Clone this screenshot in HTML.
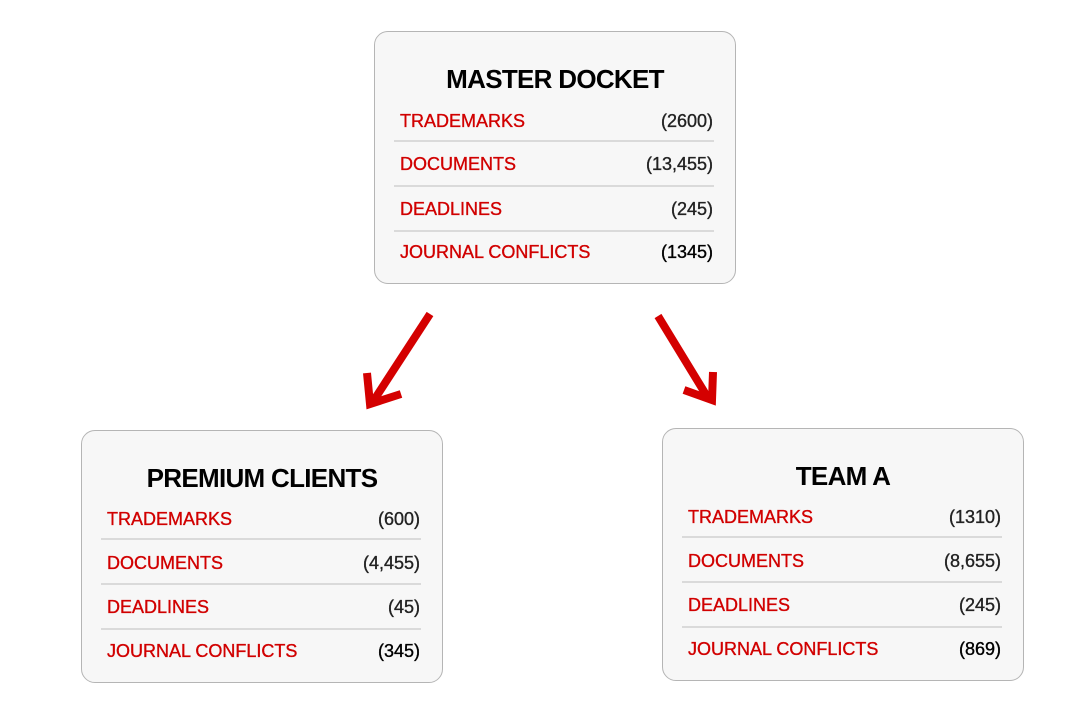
<!DOCTYPE html>
<html><head><meta charset="utf-8"><style>
body{margin:0;width:1071px;height:707px;background:#fff;position:relative;font-family:"Liberation Sans",sans-serif;overflow:hidden}
.box{position:absolute;width:362px;height:253px;background:#f7f7f7;border:1px solid #b5b5b5;border-radius:14px;box-sizing:border-box}
.t{position:absolute;left:0;right:0;text-align:center;font-weight:bold;font-size:26px;color:#000;letter-spacing:-0.7px}
.r{position:absolute;left:25px;right:22px;height:24px;font-size:18px;line-height:24px;-webkit-text-stroke:0.35px}
.r .l{color:#d10000;float:left}
.r .n{color:#222;float:right}
.s{position:absolute;left:19px;right:21px;height:2px;background:#dadada}
</style></head><body>
<svg width="1071" height="707" style="position:absolute;left:0;top:0">
<g stroke="#d40000" stroke-width="8" fill="none" stroke-linecap="butt" stroke-linejoin="miter">
<line x1="430" y1="314" x2="374" y2="400"/>
<polyline points="367,373 370,404 401,394"/>
<line x1="658" y1="316" x2="708" y2="398"/>
<polyline points="684,390 712,400 713,372"/>
</g></svg>

<div class="box" style="left:374px;top:31px">
<div class="t" style="top:32px">MASTER DOCKET</div>
<div class="r" style="top:77px"><span class="l">TRADEMARKS</span><span class="n">(2600)</span></div>
<div class="s" style="top:108px"></div>
<div class="r" style="top:120px"><span class="l">DOCUMENTS</span><span class="n">(13,455)</span></div>
<div class="s" style="top:153px"></div>
<div class="r" style="top:165px"><span class="l">DEADLINES</span><span class="n">(245)</span></div>
<div class="s" style="top:198px"></div>
<div class="r" style="top:208px"><span class="l">JOURNAL CONFLICTS</span><span class="n" style="color:#000">(1345)</span></div>
</div>

<div class="box" style="left:81px;top:430px">
<div class="t" style="top:32px">PREMIUM CLIENTS</div>
<div class="r" style="top:76px"><span class="l">TRADEMARKS</span><span class="n">(600)</span></div>
<div class="s" style="top:107px"></div>
<div class="r" style="top:120px"><span class="l">DOCUMENTS</span><span class="n">(4,455)</span></div>
<div class="s" style="top:152px"></div>
<div class="r" style="top:164px"><span class="l">DEADLINES</span><span class="n">(45)</span></div>
<div class="s" style="top:197px"></div>
<div class="r" style="top:208px"><span class="l">JOURNAL CONFLICTS</span><span class="n" style="color:#000">(345)</span></div>
</div>

<div class="box" style="left:662px;top:428px">
<div class="t" style="top:32px">TEAM A</div>
<div class="r" style="top:76px"><span class="l">TRADEMARKS</span><span class="n">(1310)</span></div>
<div class="s" style="top:107px"></div>
<div class="r" style="top:120px"><span class="l">DOCUMENTS</span><span class="n">(8,655)</span></div>
<div class="s" style="top:152px"></div>
<div class="r" style="top:164px"><span class="l">DEADLINES</span><span class="n">(245)</span></div>
<div class="s" style="top:197px"></div>
<div class="r" style="top:208px"><span class="l">JOURNAL CONFLICTS</span><span class="n" style="color:#000">(869)</span></div>
</div>
</body></html>
